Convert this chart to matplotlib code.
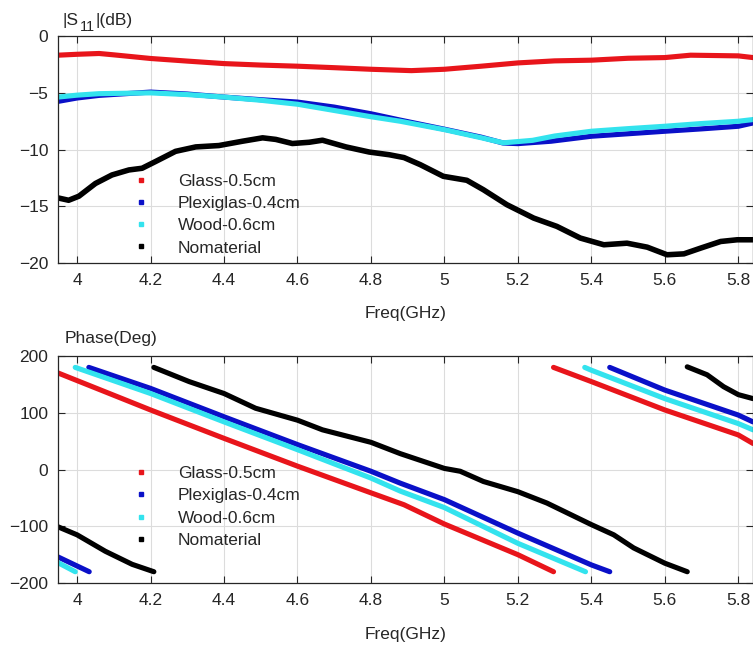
import matplotlib.pyplot as plt
from matplotlib.lines import Line2D
import numpy as np

plt.rcParams['font.family'] = ['Liberation Sans', 'DejaVu Sans']
plt.rcParams['lines.solid_capstyle'] = 'round'
plt.rcParams['lines.solid_joinstyle'] = 'round'

# ---- |S11| (dB) ----
f_glass = [3.948, 4.0, 4.06, 4.1, 4.2, 4.3, 4.4, 4.5, 4.6, 4.7, 4.8, 4.91, 5.0, 5.1, 5.2, 5.3, 5.4, 5.5,
           5.6, 5.67, 5.8, 5.84]
s11_glass = [-1.68, -1.6, -1.53, -1.65, -1.97, -2.2, -2.42, -2.55, -2.65, -2.78, -2.92, -3.04, -2.92,
             -2.65, -2.36, -2.18, -2.12, -1.95, -1.89, -1.68, -1.74, -1.89]

f_plexi = [3.948, 4.0, 4.06, 4.2, 4.3, 4.4, 4.5, 4.6, 4.7, 4.8, 4.88, 5.0, 5.1, 5.16, 5.2, 5.29, 5.4,
           5.5, 5.6, 5.7, 5.8, 5.84]
s11_plexi = [-5.75, -5.45, -5.22, -4.93, -5.1, -5.37, -5.6, -5.81, -6.25, -6.84, -7.4, -8.2, -8.9,
             -9.42, -9.47, -9.26, -8.82, -8.6, -8.38, -8.17, -7.94, -7.65]

f_wood = [3.948, 4.0, 4.06, 4.2, 4.3, 4.4, 4.5, 4.6, 4.7, 4.8, 4.88, 5.0, 5.1, 5.16, 5.24, 5.3, 5.4,
          5.5, 5.6, 5.7, 5.8, 5.84]
s11_wood = [-5.37, -5.2, -5.07, -5.0, -5.15, -5.37, -5.65, -6.0, -6.55, -7.1, -7.5, -8.24, -8.95,
            -9.4, -9.18, -8.8, -8.38, -8.15, -7.94, -7.7, -7.5, -7.35]

f_none = [3.945, 3.977, 4.005, 4.05, 4.095, 4.141, 4.177, 4.214, 4.268, 4.323, 4.386, 4.45, 4.505,
          4.541, 4.586, 4.632, 4.668, 4.732, 4.795, 4.85, 4.89, 4.934, 4.997, 5.061, 5.106, 5.17,
          5.243, 5.306, 5.37, 5.434, 5.497, 5.552, 5.606, 5.652, 5.697, 5.752, 5.797, 5.84]
s11_none = [-14.23, -14.46, -14.1, -12.98, -12.23, -11.79, -11.64, -11.04, -10.15, -9.76, -9.64,
            -9.26, -8.96, -9.1, -9.46, -9.35, -9.17, -9.76, -10.21, -10.45, -10.7, -11.32, -12.35,
            -12.7, -13.53, -14.85, -16.03, -16.76, -17.79, -18.38, -18.24, -18.59, -19.26, -19.18,
            -18.68, -18.09, -17.94, -17.94]

# ---- Phase (Deg), NaN separates the wrapped branches ----
pf_glass = [3.945, 4.2, 4.4, 4.6, 4.8, 4.89, 5.0, 5.2, 5.297, np.nan,
            5.297, 5.4, 5.6, 5.8, 5.84]
ph_glass = [171, 105, 55, 6, -41, -62, -96, -150, -180, np.nan,
            180, 155, 105, 61, 46]

pf_plexi = [3.945, 4.033, np.nan,
            4.032, 4.2, 4.4, 4.6, 4.8, 4.88, 5.0, 5.2, 5.4, 5.45, np.nan,
            5.45, 5.6, 5.8, 5.84]
ph_plexi = [-153, -180, np.nan,
            180, 143, 93, 44, -3, -24, -53, -112, -168, -180, np.nan,
            180, 140, 96, 84]

pf_wood = [3.945, 3.995, np.nan,
           3.995, 4.2, 4.4, 4.6, 4.8, 4.88, 5.0, 5.2, 5.384, np.nan,
           5.382, 5.4, 5.6, 5.8, 5.84]
ph_wood = [-163, -180, np.nan,
           180, 134, 84, 35, -15, -38, -67, -130, -180, np.nan,
           180, 175, 125, 81, 70]

pf_none = [3.945, 4.0, 4.077, 4.15, 4.209, np.nan,
           4.209, 4.305, 4.4, 4.486, 4.6, 4.668, 4.8, 4.88, 5.0, 5.043, 5.106, 5.2, 5.279, 5.4,
           5.461, 5.515, 5.6, 5.661, np.nan,
           5.661, 5.715, 5.76, 5.8, 5.84]
ph_none = [-100, -115, -144, -167, -180, np.nan,
           180, 155, 134, 108, 87, 70, 48, 28, 2, -3, -21, -39, -59, -97,
           -115, -138, -165, -180, np.nan,
           181, 167, 146, 132, 125]

labels = ["Glass-0.5cm", "Plexiglas-0.4cm", "Wood-0.6cm", "Nomaterial"]
colors = ["#e8151b", "#0a10c8", "#33e3ee", "#000000"]
xticks = [4, 4.2, 4.4, 4.6, 4.8, 5, 5.2, 5.4, 5.6, 5.8]
xticklabels = ["4", "4.2", "4.4", "4.6", "4.8", "5", "5.2", "5.4", "5.6", "5.8"]

txt = "#262626"
fs = 12.5
lw = 3.7


def style_axes(ax, lpad):
    ax.set_xlim(3.948, 5.84)
    ax.set_xticks(xticks)
    ax.set_xticklabels(xticklabels)
    ax.grid(True, color="#dcdcdc", linewidth=0.8)
    ax.set_axisbelow(True)
    ax.tick_params(direction="in", top=True, right=True, length=5, width=0.8,
                   labelsize=fs, colors=txt, pad=7)
    for sp in ax.spines.values():
        sp.set_color(txt)
        sp.set_linewidth(0.9)
    ax.set_xlabel("Freq(GHz)", fontsize=fs, color=txt, labelpad=lpad)


def add_legend(ax, y):
    handles = [Line2D([], [], linestyle="none", marker="s", markersize=3, color=c) for c in colors]
    ax.legend(handles, labels, loc="center left", bbox_to_anchor=(0.084, y), frameon=False,
              fontsize=fs, handlelength=1.0, handletextpad=1.63, labelspacing=0.41,
              labelcolor=txt)


fig = plt.figure(figsize=(7.53, 6.45), dpi=100)
ax1 = fig.add_axes([0.077, 0.592, 0.923, 0.352])
ax2 = fig.add_axes([0.077, 0.096, 0.923, 0.352])

ax1.plot(f_glass, s11_glass, color=colors[0], lw=lw)
ax1.plot(f_plexi, s11_plexi, color=colors[1], lw=lw)
ax1.plot(f_wood, s11_wood, color=colors[2], lw=lw)
ax1.plot(f_none, s11_none, color=colors[3], lw=lw + 0.3)
ax1.set_ylim(-20, 0)
ax1.set_yticks([-20, -15, -10, -5, 0])
style_axes(ax1, 13)

# |S11|(dB) with a large, dropped subscript
t1 = ax1.text(0.007, 1.035, "|S", transform=ax1.transAxes, fontsize=fs, color=txt,
              ha="left", va="bottom")
t2 = ax1.annotate("11", xy=(1, 0), xycoords=t1, xytext=(0.5, -4), textcoords="offset points",
                  fontsize=10.5, color=txt, ha="left", va="bottom")
ax1.annotate("|(dB)", xy=(1, 0), xycoords=t2, xytext=(0.5, 4), textcoords="offset points",
             fontsize=fs, color=txt, ha="left", va="bottom")
add_legend(ax1, 0.214)

ax2.plot(pf_glass, ph_glass, color=colors[0], lw=lw)
ax2.plot(pf_plexi, ph_plexi, color=colors[1], lw=lw)
ax2.plot(pf_wood, ph_wood, color=colors[2], lw=lw)
ax2.plot(pf_none, ph_none, color=colors[3], lw=lw)
ax2.set_ylim(-200, 200)
ax2.set_yticks([-200, -100, 0, 100, 200])
style_axes(ax2, 14)
ax2.text(0.01, 1.045, "Phase(Deg)", transform=ax2.transAxes, fontsize=fs, color=txt,
         ha="left", va="bottom")
add_legend(ax2, 0.335)

fig.savefig("out.png", dpi=100)
